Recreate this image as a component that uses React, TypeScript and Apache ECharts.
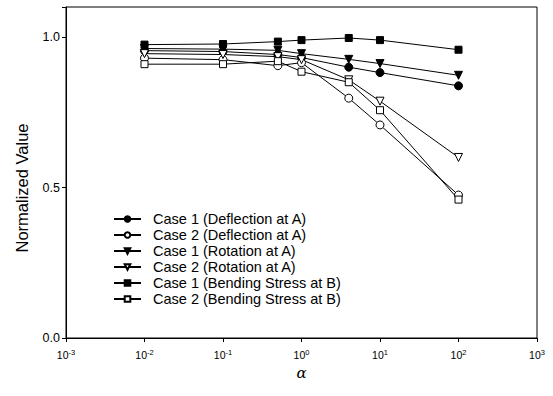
import React, { useEffect, useRef } from "react";
import * as echarts from "echarts";

const alphaValues = [0.01, 0.1, 0.5, 1, 4, 10, 100];
const case1Deflection = [0.955, 0.952, 0.942, 0.932, 0.9, 0.882, 0.838];
const case2Deflection = [0.93, 0.925, 0.905, 0.915, 0.797, 0.708, 0.475];
const case1Rotation = [0.962, 0.96, 0.956, 0.945, 0.926, 0.912, 0.873];
const case2Rotation = [0.945, 0.942, 0.935, 0.925, 0.858, 0.787, 0.6];
const case1Bending = [0.975, 0.977, 0.985, 0.99, 0.997, 0.99, 0.958];
const case2Bending = [0.91, 0.91, 0.92, 0.885, 0.85, 0.757, 0.46];
const seriesNames = [
  "Case 1 (Deflection at A)",
  "Case 2 (Deflection at A)",
  "Case 1 (Rotation at A)",
  "Case 2 (Rotation at A)",
  "Case 1 (Bending Stress at B)",
  "Case 2 (Bending Stress at B)",
];
const yTickLabels = ["0.0", "0.5", "1.0"];
const yAxisTitle = "Normalized Value";

const FONT = "'Liberation Sans', Arial, sans-serif";

export default function App() {
  const ref = useRef<HTMLDivElement>(null);
  useEffect(() => {
    if (!ref.current) return;
    const chart = echarts.init(ref.current, undefined, { renderer: "svg" });
    const mk = (name: string, vals: number[], symbol: string, filled: boolean, rotate = 0) => ({
      name,
      type: "line",
      data: alphaValues.map((a, i) => [a, vals[i]]),
      symbol,
      symbolSize: symbol === "rect" ? 7 : 8,
      symbolRotate: rotate,
      showAllSymbol: true,
      lineStyle: { color: "#000", width: 1 },
      itemStyle: {
        color: filled ? "#000" : "#fff",
        borderColor: "#000",
        borderWidth: 1,
      },
      emphasis: { disabled: true },
    });
    chart.setOption({
      animation: false,
      backgroundColor: "#fff",
      textStyle: { fontFamily: FONT },
      grid: {
        left: 66,
        right: 16,
        top: 7,
        bottom: 58,
        show: true,
        borderColor: "#000",
        borderWidth: 1,
        backgroundColor: "transparent",
      },
      graphic: [
        {
          type: "text",
          x: 22,
          y: 188,
          rotation: Math.PI / 2,
          style: {
            text: yAxisTitle,
            fontSize: 16.5,
            fontFamily: FONT,
            fill: "#000",
            align: "center",
            verticalAlign: "middle",
          },
        },
      ],
      legend: {
        orient: "vertical",
        left: 108,
        top: 206,
        itemGap: 0,
        itemWidth: 27,
        itemHeight: 7,
        textStyle: {
          fontSize: 14.5,
          lineHeight: 16,
          color: "#000",
          fontFamily: FONT,
          padding: [0, 0, 0, 7],
        },
        data: seriesNames,
      },
      xAxis: {
        type: "log",
        logBase: 10,
        min: 0.001,
        max: 1000,
        name: "α",
        nameLocation: "middle",
        nameGap: 26,
        nameTextStyle: { fontSize: 15, fontStyle: "italic", color: "#000", fontFamily: "'DejaVu Serif', serif" },
        axisLine: { show: true, lineStyle: { color: "#000" } },
        axisTick: { show: true, inside: false, length: 4, lineStyle: { color: "#000" } },
        splitLine: { show: false },
        minorTick: { show: false },
        axisLabel: {
          margin: 10,
          color: "#000",
          formatter: (v: number) => {
            const e = Math.round(Math.log10(v));
            return `{b|10}{s|${e}}`;
          },
          rich: {
            b: { fontSize: 10.5, fontFamily: FONT, color: "#000" },
            s: { fontSize: 7.5, fontFamily: FONT, color: "#000", verticalAlign: "top", padding: [0, 0, 6, 0] },
          },
        },
      },
      yAxis: {
        type: "value",
        min: 0,
        max: 1.1,
        interval: 0.5,
        axisLine: { show: true, lineStyle: { color: "#000" } },
        axisTick: { show: true, inside: false, length: 4, lineStyle: { color: "#000" } },
        splitLine: { show: false },
        axisLabel: {
          fontSize: 12.5,
          color: "#000",
          margin: 6,
          formatter: (v: number) => {
            const idx = Math.round(v / 0.5);
            if (Math.abs(v - idx * 0.5) > 1e-6) return "";
            return yTickLabels[idx] ?? "";
          },
        },
      },
      series: [
        mk(seriesNames[0], case1Deflection, "circle", true),
        mk(seriesNames[1], case2Deflection, "circle", false),
        mk(seriesNames[2], case1Rotation, "triangle", true, 180),
        mk(seriesNames[3], case2Rotation, "triangle", false, 180),
        mk(seriesNames[4], case1Bending, "rect", true),
        mk(seriesNames[5], case2Bending, "rect", false),
      ],
    });
    return () => chart.dispose();
  }, []);
  return (
    <div
      ref={ref}
      style={{ position: "fixed", left: 0, top: 0, width: 553, height: 396 }}
    />
  );
}
